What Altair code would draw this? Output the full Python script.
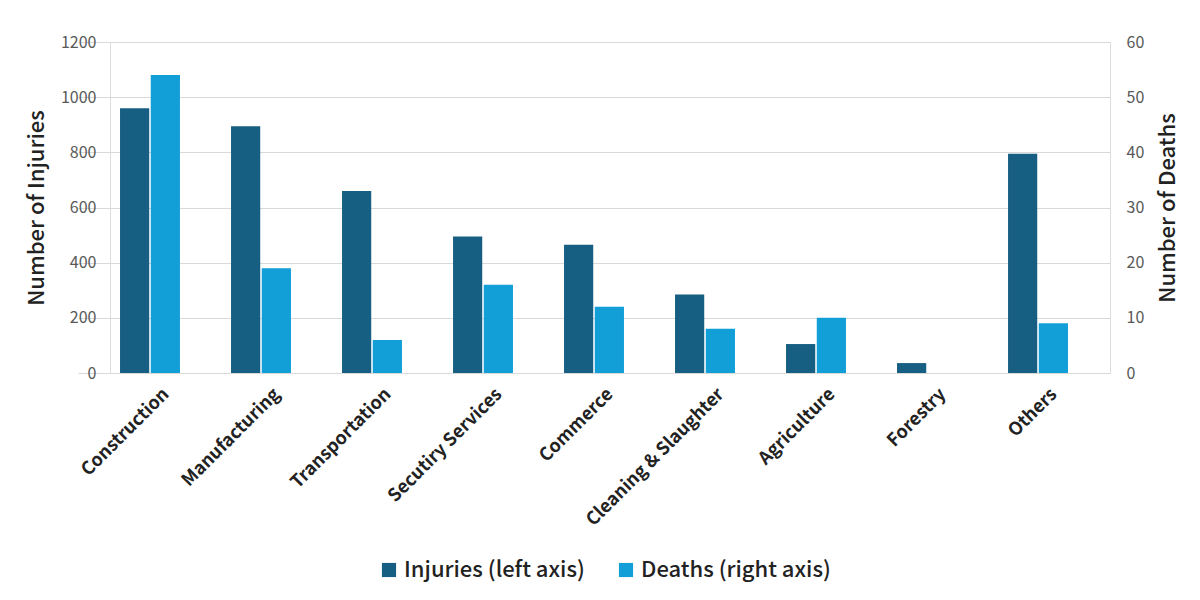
import altair as alt
import pandas as pd

categories = ["Construction", "Manufacturing", "Transportation", "Secutiry Services",
              "Commerce", "Cleaning & Slaughter", "Agriculture", "Forestry", "Others"]
injuries = [960, 895, 660, 495, 465, 285, 105, 36, 795]
deaths = [54, 19, 6, 16, 12, 8, 10, 0, 9]
series_names = ["Injuries (left axis)", "Deaths (right axis)"]
colors = ["#175f82", "#129fd8"]

FONT = "Noto Sans CJK JP"

df = pd.DataFrame({
    "category": categories * 2,
    "series": [series_names[0]] * len(categories) + [series_names[1]] * len(categories),
    "value": injuries + deaths,
})

x_enc = alt.X("category:N", sort=categories, title=None,
              scale=alt.Scale(paddingInner=0.46, paddingOuter=0.3786, range=[-32, 1000]),
              axis=alt.Axis(labelAngle=-45, labelFontSize=18, labelFontWeight="bold",
                            labelColor="#222222", ticks=False, domain=False, labelLimit=0,
                            labelPadding=12, labelFont=FONT, labelOffset=10))
xoff = alt.XOffset("series:N", sort=series_names,
                   scale=alt.Scale(domain=series_names, paddingInner=0.05))
color = alt.Color("series:N", sort=series_names,
                  scale=alt.Scale(domain=series_names, range=colors),
                  legend=alt.Legend(orient="none", legendX=268, legendY=517,
                                    direction="horizontal", title=None,
                                    symbolType="square", symbolSize=200, labelFontSize=22,
                                    labelFont=FONT, labelColor="#222222", columnPadding=30,
                                    symbolStrokeWidth=0, labelFontWeight=500, labelLimit=0))

base = alt.Chart(df)

inj = base.transform_filter(alt.datum.series == series_names[0]).mark_bar().encode(
    x=x_enc, xOffset=xoff, color=color,
    y=alt.Y("value:Q", title="Number of Injuries",
            scale=alt.Scale(domain=[0, 1200]),
            axis=alt.Axis(values=[0, 200, 400, 600, 800, 1000, 1200], grid=True,
                          gridColor="#d9d9d9", domain=False, ticks=False, format="d",
                          labelFontSize=16, labelColor="#595959", labelFont=FONT,
                          titleFontSize=22, titleFont=FONT, titleColor="#222222",
                          titleFontWeight=500, labelPadding=14, titlePadding=12)),
)

dth = base.transform_filter(alt.datum.series == series_names[1]).mark_bar().encode(
    x=x_enc, xOffset=xoff, color=color,
    y=alt.Y("value:Q", title="Number of Deaths",
            scale=alt.Scale(domain=[0, 60]),
            axis=alt.Axis(orient="right", values=[0, 10, 20, 30, 40, 50, 60], grid=False,
                          domain=False, ticks=False, format="d",
                          labelFontSize=16, labelColor="#595959", labelFont=FONT,
                          titleFontSize=22, titleFont=FONT, titleColor="#222222",
                          titleFontWeight=500, labelPadding=16, titlePadding=14,
                          titleAngle=270, titleBaseline="top")),
)

chart = alt.layer(inj, dth).resolve_scale(y="independent").properties(
    width=1000, height=331,
    padding={"left": 17, "top": 26, "right": 5, "bottom": 5},
).configure_view(stroke=None).configure(background="white")

chart.save("out.html", embed_options={"renderer": "svg", "actions": False})
